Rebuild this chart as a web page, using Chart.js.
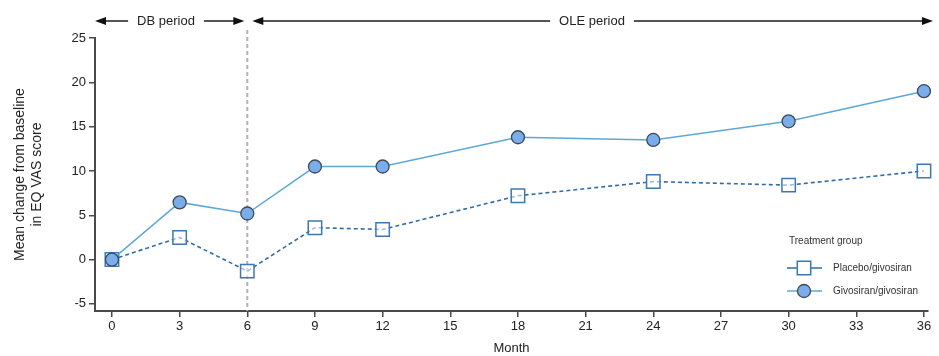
<!DOCTYPE html>
<html>
<head>
<meta charset="utf-8">
<script src="https://cdn.jsdelivr.net/npm/chart.js@4/dist/chart.umd.min.js"></script>
<style>
  html, body { margin: 0; padding: 0; background: #fff; }
  #wrap { width: 939px; height: 356px; position: relative; }
</style>
</head>
<body>
<div id="wrap"><canvas id="c"></canvas></div>
<script>
// Study months and mean change from baseline in EQ VAS score
const months = [0, 3, 6, 9, 12, 18, 24, 30, 36];
const placeboGivosiran = [0, 2.5, -1.3, 3.6, 3.4, 7.2, 8.8, 8.4, 10.0];
const givosiranGivosiran = [0, 6.45, 5.2, 10.5, 10.5, 13.8, 13.5, 15.6, 19.0];
const xTicks = [0, 3, 6, 9, 12, 15, 18, 21, 24, 27, 30, 33, 36];
const yTicks = [-5, 0, 5, 10, 15, 20, 25];
const seriesNames = ['Placebo/givosiran', 'Givosiran/givosiran'];
const periodSplit = 6;
const periodNames = ['DB period', 'OLE period'];
const legendTitle = 'Treatment group';

const FONT = '"Liberation Sans", Arial, Helvetica, sans-serif';
const AXIS = '#4a4a4a';

const toPoints = (ys) => months.map((m, i) => ({ x: m, y: ys[i] }));

function arrowHead(ctx, x, y, dir) {
  ctx.beginPath();
  ctx.moveTo(x, y);
  ctx.lineTo(x - dir * 11, y - 4);
  ctx.lineTo(x - dir * 11, y + 4);
  ctx.closePath();
  ctx.fill();
}

function marker(ctx, d, x, y) {
  ctx.save();
  ctx.fillStyle = d.pointBackgroundColor;
  ctx.strokeStyle = d.pointBorderColor;
  ctx.lineWidth = d.pointBorderWidth;
  ctx.beginPath();
  if (d.pointStyle === 'circle') {
    ctx.arc(x, y, d.pointRadius, 0, Math.PI * 2);
  } else {
    const s = Math.SQRT1_2 * d.pointRadius;
    ctx.rect(x - s, y - s, 2 * s, 2 * s);
  }
  ctx.fill();
  ctx.stroke();
  ctx.restore();
}

// Period arrows, study-phase divider and legend box
const overlay = {
  id: 'overlay',
  beforeDatasetsDraw(chart) {
    const { ctx, chartArea, scales } = chart;
    const xs = scales.x.getPixelForValue(periodSplit);
    ctx.save();
    ctx.strokeStyle = '#b3b3b3';
    ctx.lineWidth = 2;
    ctx.setLineDash([4, 3]);
    ctx.beginPath();
    ctx.moveTo(xs, 30);
    ctx.lineTo(xs, chartArea.bottom);
    ctx.stroke();
    ctx.restore();
  },
  afterDraw(chart) {
    const { ctx, chartArea, scales } = chart;
    const xs = scales.x.getPixelForValue(periodSplit);
    const y = 21;
    ctx.save();
    ctx.font = '13px ' + FONT;
    ctx.strokeStyle = '#555';
    ctx.lineWidth = 2;
    ctx.textBaseline = 'middle';
    ctx.textAlign = 'center';

    const segments = [
      { a: chartArea.left, b: xs - 3, label: periodNames[0], cx: 166 },
      { a: xs + 5, b: chartArea.right + 5, label: periodNames[1], cx: 592 }
    ];
    segments.forEach(s => {
      const w = ctx.measureText(s.label).width;
      ctx.fillStyle = '#222';
      ctx.fillText(s.label, s.cx, y);
      ctx.beginPath();
      ctx.moveTo(s.a + 8, y);
      ctx.lineTo(s.cx - w / 2 - 9, y);
      ctx.moveTo(s.cx + w / 2 + 9, y);
      ctx.lineTo(s.b - 8, y);
      ctx.stroke();
      ctx.fillStyle = '#111';
      arrowHead(ctx, s.a, y, -1);
      arrowHead(ctx, s.b, y, 1);
    });

    // legend
    ctx.textAlign = 'left';
    ctx.font = '10px ' + FONT;
    ctx.fillStyle = '#333';
    ctx.fillText(legendTitle, 789, 241);
    const rows = [268, 291];
    chart.data.datasets.forEach((d, i) => {
      const ly = rows[i];
      ctx.save();
      ctx.strokeStyle = d.borderColor;
      ctx.lineWidth = 1.5;
      ctx.beginPath();
      ctx.moveTo(787, ly);
      ctx.lineTo(822, ly);
      ctx.stroke();
      ctx.restore();
      marker(ctx, Object.assign({}, d, { pointBackgroundColor: d.pointStyle === 'circle' ? d.pointBackgroundColor : '#fff' }), 804, ly);
      ctx.font = '10px ' + FONT;
      ctx.fillStyle = '#333';
      ctx.fillText(d.label, 833, ly);
    });
    ctx.restore();
  }
};

new Chart(document.getElementById('c'), {
  type: 'line',
  data: {
    datasets: [
      {
        label: seriesNames[0],
        data: toPoints(placeboGivosiran),
        order: 1,
        borderColor: '#2f6ca8',
        borderWidth: 1.6,
        borderDash: [4, 3],
        pointStyle: 'rect',
        pointRadius: 9.5,
        pointBorderWidth: 1.5,
        pointBorderColor: '#3c78b4',
        pointBackgroundColor: 'rgba(255,255,255,0.55)',
        backgroundColor: 'rgba(255,255,255,0.55)',
        clip: false,
        tension: 0
      },
      {
        label: seriesNames[1],
        data: toPoints(givosiranGivosiran),
        order: 0,
        borderColor: '#5ea8d6',
        borderWidth: 1.5,
        pointStyle: 'circle',
        pointRadius: 6.5,
        pointBorderWidth: 1.3,
        pointBorderColor: '#3f4a58',
        pointBackgroundColor: '#7badea',
        backgroundColor: '#7badea',
        clip: false,
        tension: 0
      }
    ]
  },
  options: {
    responsive: true,
    maintainAspectRatio: false,
    animation: false,
    layout: { padding: { top: 38, right: 9, left: 12, bottom: 0 } },
    plugins: { legend: { display: false }, tooltip: { enabled: false } },
    scales: {
      x: {
        type: 'linear',
        min: -0.752,
        max: 36.18,
        afterBuildTicks: (s) => { s.ticks = xTicks.map(v => ({ value: v })); },
        afterFit: (s) => { s.height = 45; },
        grid: { drawOnChartArea: false, drawTicks: true, tickLength: 6, color: AXIS, lineWidth: 1.5 },
        border: { color: AXIS, width: 2 },
        ticks: { color: '#222', font: { family: FONT, size: 13 }, padding: 2, maxRotation: 0, autoSkip: false },
        title: { display: true, text: 'Month', color: '#222', font: { family: FONT, size: 13 }, padding: { top: 0, bottom: 0 } }
      },
      y: {
        type: 'linear',
        min: -5.8,
        max: 25,
        afterBuildTicks: (s) => { s.ticks = yTicks.map(v => ({ value: v })); },
        afterFit: (s) => { s.width = 83; },
        grid: { drawOnChartArea: false, drawTicks: true, tickLength: 6, color: AXIS, lineWidth: 1.5 },
        border: { color: AXIS, width: 2 },
        ticks: { color: '#222', font: { family: FONT, size: 13 }, padding: 3 },
        title: { display: true, text: ['Mean change from baseline', 'in EQ VAS score'], color: '#222', font: { family: FONT, size: 14, lineHeight: 1.2 }, padding: { top: 0, bottom: 8 } }
      }
    }
  },
  plugins: [overlay]
});
</script>
</body>
</html>
